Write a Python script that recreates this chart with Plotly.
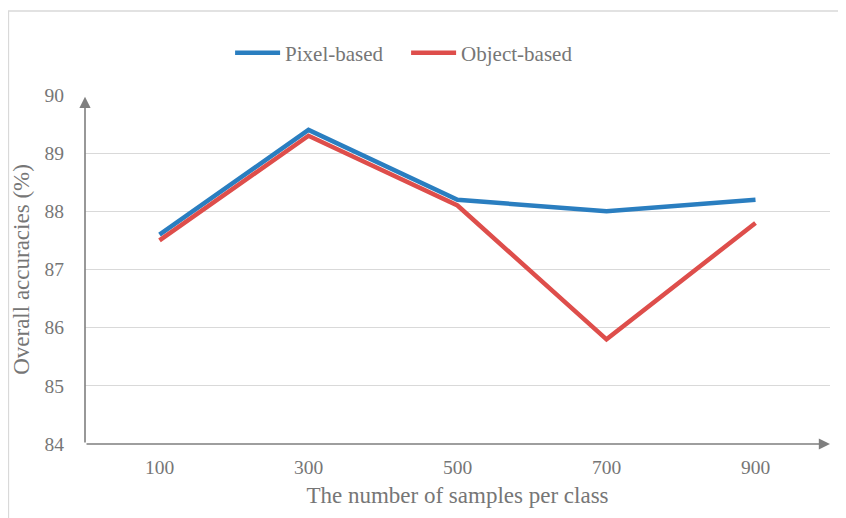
import plotly.graph_objects as go

categories = ["100", "300", "500", "700", "900"]
pixel_based = [87.6, 89.4, 88.2, 88.0, 88.2]
object_based = [87.5, 89.3, 88.1, 85.8, 87.8]
y_ticks = [84, 85, 86, 87, 88, 89, 90]

FONT = "Liberation Serif, Times New Roman, serif"
GRAY = "#7f7f7f"
TXT = "#767676"

fig = go.Figure()
fig.add_trace(go.Scatter(x=categories, y=pixel_based, mode="lines", name="Pixel-based",
                         line=dict(color="#2a7ec0", width=4.5)))
fig.add_trace(go.Scatter(x=categories, y=object_based, mode="lines", name="Object-based",
                         line=dict(color="#de4e4b", width=4.5)))

# page body has an 8px margin, so the figure is 838x510
W, H = 838, 510
L, R, T, B = 77, 16, 87, 74
pw = W - L - R
ph = H - T - B

fig.update_layout(
    width=W, height=H,
    margin=dict(l=L, r=R, t=T, b=B, autoexpand=False),
    paper_bgcolor="white", plot_bgcolor="white",
    font=dict(family=FONT, color=TXT, size=19.5),
    showlegend=True,
    legend=dict(orientation="h", x=0.431, y=1.12, xanchor="center", yanchor="middle",
                font=dict(family=FONT, size=21, color=TXT), itemwidth=45, entrywidth=116,
                tracegroupgap=0, bgcolor="rgba(0,0,0,0)"),
    xaxis=dict(type="category", range=[-0.5, 4.5], showgrid=False, showline=False, automargin=False,
               zeroline=False, ticks="", ticklabelstandoff=9,
               tickfont=dict(family=FONT, size=19.5, color=TXT),
               title=dict(text="The number of samples per class",
                          font=dict(family=FONT, size=23, color=TXT), standoff=10)),
    yaxis=dict(range=[84, 90], tickvals=y_ticks, showgrid=True, gridcolor="#d9d9d9", gridwidth=1.3,
               showline=False, zeroline=False, ticks="", ticklabelstandoff=20, automargin=False,
               tickfont=dict(family=FONT, size=19.5, color=TXT),
               title=dict(text="Overall accuracies (%)",
                          font=dict(family=FONT, size=23, color=TXT), standoff=8)),
)

# axis arrows
fig.add_annotation(xref="paper", yref="paper", x=1.0, y=0, ax=-pw, ay=0, axref="pixel", ayref="pixel",
                   showarrow=True, arrowhead=2, arrowsize=1.4, arrowwidth=1.6, arrowcolor=GRAY, text="")
fig.add_annotation(xref="paper", yref="paper", x=0, y=0.995, ax=0, ay=ph * 0.995, axref="pixel", ayref="pixel",
                   showarrow=True, arrowhead=2, arrowsize=1.4, arrowwidth=1.6, arrowcolor=GRAY, text="")

# outer chart border
fig.add_shape(type="rect", xref="paper", yref="paper",
              x0=(0.5 - L) / pw, x1=(W + 5 - L) / pw, y0=-(B + 10) / ph, y1=(H - B - 3) / ph,
              line=dict(color="#d9d9d9", width=1.3), fillcolor="rgba(0,0,0,0)", layer="below")

fig.write_html("out.html")
